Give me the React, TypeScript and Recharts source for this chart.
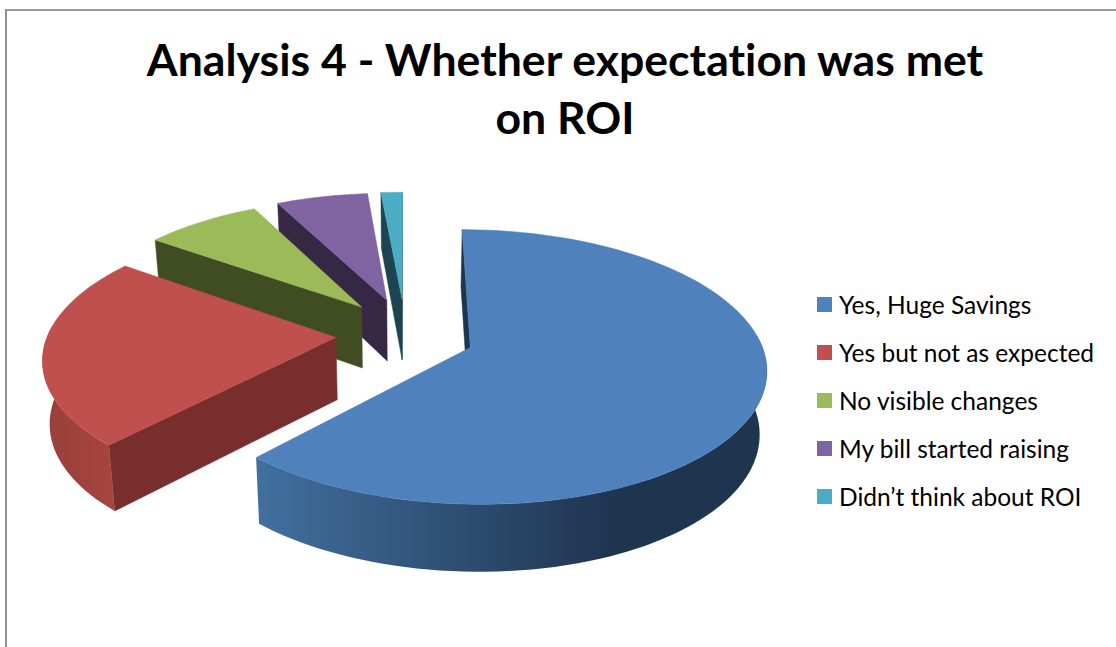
import { PieChart, Pie, Legend } from 'recharts'

// legend order, clockwise from twelve o'clock
const categories = [
  'Yes, Huge Savings',
  'Yes but not as expected',
  'No visible changes',
  'My bill started raising',
  'Didn\u2019t think about ROI',
]
const shares = [61.9, 23.1, 7.6, 6.0, 1.4]
const colors = ['#4F81BD', '#C0504D', '#9BBB59', '#8064A2', '#4BACC6']
const wallColors = ['#1F344F', '#772E2C', '#404D22', '#342844', '#1C4551']
const arcFrom = ['#41709F', '#A7453F', '#5E7236', '#4E3D63', '#2D6878']
const arcTo = ['#1F344F', '#983F3B', '#404D22', '#342844', '#1C4551']

const titleLines = ['Analysis 4 - Whether expectation was met', 'on ROI']

// painted back to front, so the pie runs counter-clockwise over the reversed table
const rows = categories
  .map((name, i) => ({ name, value: shares[i], fill: colors[i], idx: i }))
  .reverse()

const FONT = 'Lato, sans-serif'
const SQUASH = 0.454
const PERSP = 0.14
const SHRINK = 0.02
const DEPTH = 62
const EXPLODE_U = 0.24
const EXPLODE_V = 0.278

function Slice3D(props: any) {
  const { cx, cy, outerRadius, startAngle, endAngle, payload } = props
  const idx = payload?.idx ?? props.idx
  // recharts hands back counter-clockwise angles; turn them into clockwise degrees from the top
  const from = 360 + 90 - Math.max(startAngle, endAngle)
  const to = 360 + 90 - Math.min(startAngle, endAngle)
  const mid = ((from + to) / 2) * (Math.PI / 180)
  const ou = Math.sin(mid) * EXPLODE_U
  const ov = Math.cos(mid) * EXPLODE_V

  const project = (u: number, v: number, z: number): [number, number] => {
    const f = 1 / (1 + PERSP * v)
    return [
      cx + outerRadius * u * f * (1 - SHRINK * z),
      cy - outerRadius * SQUASH * v * f + DEPTH * z * (1 - 0.08 * v),
    ]
  }
  const rim = (deg: number, z: number) => {
    const t = (deg * Math.PI) / 180
    return project(ou + Math.sin(t), ov + Math.cos(t), z)
  }
  const apexTop = project(ou, ov, 0)
  const apexBottom = project(ou, ov, 1)
  const toPath = (pts: [number, number][]) =>
    'M' + pts.map((p) => `${p[0].toFixed(1)},${p[1].toFixed(1)}`).join('L') + 'Z'
  const area = (pts: [number, number][]) =>
    pts.reduce((sum, p, i) => {
      const q = pts[(i + 1) % pts.length]
      return sum + p[0] * q[1] - q[0] * p[1]
    }, 0)

  const sweep = (a: number, b: number, z: number) => {
    const pts: [number, number][] = []
    const n = Math.max(2, Math.ceil((b - a) / 2))
    for (let i = 0; i <= n; i++) pts.push(rim(a + ((b - a) * i) / n, z))
    return pts
  }

  const startWall: [number, number][] = [apexTop, rim(from, 0), rim(from, 1), apexBottom]
  const endWall: [number, number][] = [apexTop, rim(to, 0), rim(to, 1), apexBottom]
  const wall = wallColors[idx]
  const gradId = `arc-${idx}`

  const arcA = Math.max(from, 85)
  const arcB = Math.min(to, 275)
  const arcWall = arcB > arcA ? [...sweep(arcA, arcB, 0), ...sweep(arcA, arcB, 1).reverse()] : null
  const top: [number, number][] = [apexTop, ...sweep(from, to, 0)]

  return (
    <g>
      <defs>
        <linearGradient id={gradId} x1="0" y1="0" x2="1" y2="0">
          {idx === 0 ? (
            <>
              <stop offset="0" stopColor={arcFrom[idx]} />
              <stop offset="0.7" stopColor={arcTo[idx]} />
              <stop offset="1" stopColor={arcTo[idx]} />
            </>
          ) : (
            <>
              <stop offset="0" stopColor={arcTo[idx]} />
              <stop offset="1" stopColor={arcFrom[idx]} />
            </>
          )}
        </linearGradient>
      </defs>
      {area(startWall) < 0 && <path d={toPath(startWall)} fill={wall} stroke={wall} strokeWidth={0.5} />}
      {area(endWall) > 0 && <path d={toPath(endWall)} fill={wall} stroke={wall} strokeWidth={0.5} />}
      {arcWall && <path d={toPath(arcWall)} fill={`url(#${gradId})`} />}
      <path d={toPath(top)} fill={colors[idx]} stroke={colors[idx]} strokeWidth={0.5} />
    </g>
  )
}

function LegendList() {
  return (
    <div style={{ fontFamily: FONT, fontSize: 24.5, color: '#000' }}>
      {categories.map((name, i) => (
        <div key={name} style={{ display: 'flex', alignItems: 'center', height: 48, whiteSpace: 'nowrap', fontVariantLigatures: 'none' }}>
          <span style={{ width: 15, height: 15, background: colors[i], marginRight: 7, flex: 'none' }} />
          {name}
        </div>
      ))}
    </div>
  )
}

export default function App() {
  return (
    <div style={{ position: 'absolute', left: 0, top: 0, width: 1116, height: 647, overflow: 'hidden', background: '#fff' }}>
      <div
        style={{
          position: 'absolute',
          left: 5,
          top: 9,
          width: 1111,
          height: 638,
          borderLeft: '2px solid #8E8E8E',
          borderTop: '2px solid #9A9A9A',
        }}
      />
      <div
        style={{
          position: 'absolute',
          left: 0,
          top: 30,
          width: 1130,
          textAlign: 'center',
          fontFamily: FONT,
          fontWeight: 700,
          fontSize: 44.6,
          lineHeight: '58px',
          color: '#000',
          fontVariantLigatures: 'none',
        }}
      >
        {titleLines.map((line) => (
          <div key={line}>{line}</div>
        ))}
      </div>
      <PieChart width={1116} height={647} margin={{ top: 0, right: 0, bottom: 0, left: 0 }} style={{ position: 'absolute', left: 0, top: 0 }}>
        <Pie
          data={rows}
          dataKey="value"
          nameKey="name"
          cx={405}
          cy={334}
          innerRadius={0}
          outerRadius={288}
          startAngle={90}
          endAngle={450}
          stroke="none"
          shape={Slice3D}
          isAnimationActive={false}
        />
        <Legend
          layout="vertical"
          content={<LegendList />}
          wrapperStyle={{ position: 'absolute', left: 817, top: 280, width: 299, height: 240 }}
        />
      </PieChart>
    </div>
  )
}
